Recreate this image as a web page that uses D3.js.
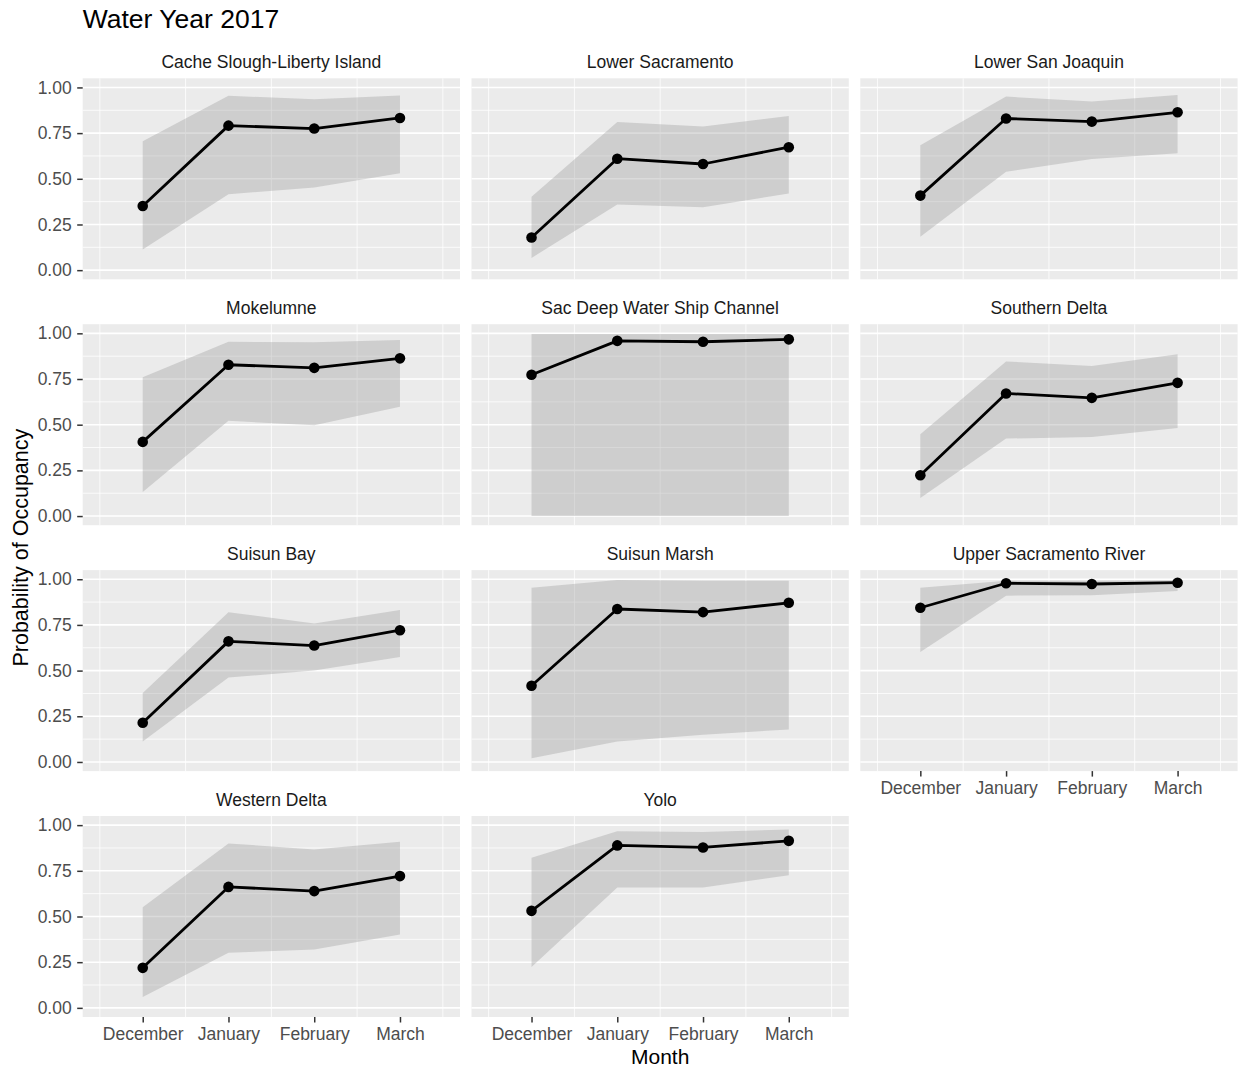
<!DOCTYPE html>
<html>
<head>
<meta charset="utf-8">
<script src="https://cdn.jsdelivr.net/npm/d3@7"></script>
<style>
  html, body { margin: 0; padding: 0; background: #ffffff; }
  svg { display: block; font-family: "Liberation Sans", Arial, Helvetica, sans-serif; }
</style>
</head>
<body>
<svg id="chart" width="1238" height="1070"></svg>
<script>
// Monthly occupancy estimates (with credible-interval bounds) per region, water year 2017
const months = ["December", "January", "February", "March"];

const regions = [
  "Cache Slough-Liberty Island", "Lower Sacramento", "Lower San Joaquin",
  "Mokelumne", "Sac Deep Water Ship Channel", "Southern Delta",
  "Suisun Bay", "Suisun Marsh", "Upper Sacramento River",
  "Western Delta", "Yolo"
];

const occupancy = [
  [0.351, 0.791, 0.775, 0.833],
  [0.179, 0.610, 0.581, 0.673],
  [0.408, 0.830, 0.813, 0.864],
  [0.406, 0.828, 0.811, 0.863],
  [0.773, 0.959, 0.954, 0.967],
  [0.223, 0.671, 0.647, 0.729],
  [0.215, 0.660, 0.637, 0.721],
  [0.417, 0.837, 0.820, 0.871],
  [0.844, 0.978, 0.974, 0.981],
  [0.219, 0.662, 0.639, 0.721],
  [0.531, 0.889, 0.878, 0.914]
];

const lowerBound = [
  [0.113, 0.415, 0.453, 0.530],
  [0.067, 0.360, 0.344, 0.420],
  [0.183, 0.539, 0.609, 0.640],
  [0.132, 0.521, 0.497, 0.598],
  [0.000, 0.000, 0.000, 0.000],
  [0.099, 0.424, 0.433, 0.482],
  [0.112, 0.462, 0.501, 0.574],
  [0.020, 0.112, 0.149, 0.178],
  [0.602, 0.910, 0.913, 0.936],
  [0.060, 0.301, 0.320, 0.402],
  [0.224, 0.659, 0.659, 0.726]
];

const upperBound = [
  [0.705, 0.954, 0.936, 0.956],
  [0.402, 0.811, 0.786, 0.844],
  [0.683, 0.950, 0.923, 0.959],
  [0.759, 0.954, 0.951, 0.963],
  [0.996, 0.996, 0.996, 0.996],
  [0.448, 0.846, 0.821, 0.885],
  [0.378, 0.820, 0.758, 0.831],
  [0.954, 0.996, 0.992, 0.992],
  [0.954, 0.992, 0.992, 0.995],
  [0.551, 0.900, 0.867, 0.909],
  [0.821, 0.967, 0.963, 0.976]
];

const yTicks = [0, 0.25, 0.5, 0.75, 1];
const yTickLabels = ["0.00", "0.25", "0.50", "0.75", "1.00"];
const yMinorTicks = [0.125, 0.375, 0.625, 0.875];

const chartTitle = "Water Year 2017";
const xTitle = "Month";
const yTitle = "Probability of Occupancy";

// ---- layout ----
const nCols = 3;
const panelW = 377.3, panelH = 201;
const colLeft = [82.7, 471.5, 860.3];
const rowTop = [78.3, 324.2, 570.1, 816];
const fontSmall = 17.5;

const svg = d3.select("#chart");

const x = d3.scalePoint().domain(months).range([0, panelW]).padding(0.7);
const y = d3.scaleLinear().domain([-0.05, 1.05]).range([panelH, 0]);
const step = x.step();
const xMinor = months.map(m => x(m) - step / 2).concat([x(months[months.length - 1]) + step / 2]);

// title
svg.append("text")
  .attr("x", colLeft[0]).attr("y", 28)
  .attr("font-size", 26.5).attr("fill", "#000")
  .text(chartTitle);

// axis titles
svg.append("text")
  .attr("x", (colLeft[0] + colLeft[2] + panelW) / 2).attr("y", 1063.5)
  .attr("text-anchor", "middle").attr("font-size", 21).attr("fill", "#000")
  .text(xTitle);

svg.append("text")
  .attr("transform", `translate(28,${(rowTop[0] + rowTop[3] + panelH) / 2}) rotate(-90)`)
  .attr("text-anchor", "middle").attr("font-size", 21.5).attr("fill", "#000")
  .text(yTitle);

const lastRowOfCol = [];
regions.forEach((r, i) => { lastRowOfCol[i % nCols] = Math.floor(i / nCols); });

regions.forEach((region, i) => {
  const col = i % nCols, row = Math.floor(i / nCols);
  const g = svg.append("g").attr("transform", `translate(${colLeft[col]},${rowTop[row]})`);

  // strip label
  g.append("text")
    .attr("x", panelW / 2).attr("y", -10)
    .attr("text-anchor", "middle").attr("font-size", fontSmall).attr("fill", "#1a1a1a")
    .text(region);

  // panel background
  g.append("rect").attr("width", panelW).attr("height", panelH).attr("fill", "#ebebeb");

  // minor grid
  g.selectAll(".hminor").data(yMinorTicks).enter().append("line")
    .attr("x1", 0).attr("x2", panelW)
    .attr("y1", d => y(d)).attr("y2", d => y(d))
    .attr("stroke", "#fff").attr("stroke-width", 0.8);
  g.selectAll(".vminor").data(xMinor).enter().append("line")
    .attr("y1", 0).attr("y2", panelH)
    .attr("x1", d => d).attr("x2", d => d)
    .attr("stroke", "#fff").attr("stroke-width", 0.8);

  // major grid
  g.selectAll(".hmajor").data(yTicks).enter().append("line")
    .attr("x1", 0).attr("x2", panelW)
    .attr("y1", d => y(d)).attr("y2", d => y(d))
    .attr("stroke", "#fff").attr("stroke-width", 1.6);

  const pts = months.map((m, j) => ({
    m, v: occupancy[i][j], lo: lowerBound[i][j], hi: upperBound[i][j]
  }));

  // interval ribbon
  const area = d3.area()
    .x(d => x(d.m)).y0(d => y(d.lo)).y1(d => y(d.hi));
  g.append("path").datum(pts).attr("d", area)
    .attr("fill", "#999999").attr("fill-opacity", 0.35);

  // estimate line + points
  const line = d3.line().x(d => x(d.m)).y(d => y(d.v));
  g.append("path").datum(pts).attr("d", line)
    .attr("fill", "none").attr("stroke", "#000").attr("stroke-width", 2.8)
    .attr("stroke-linejoin", "round");
  g.selectAll(".pt").data(pts).enter().append("circle")
    .attr("cx", d => x(d.m)).attr("cy", d => y(d.v)).attr("r", 5.3)
    .attr("fill", "#000");

  // y axis on first column
  if (col === 0) {
    const ay = g.append("g").call(
      d3.axisLeft(y).tickValues(yTicks)
        .tickFormat((d, k) => yTickLabels[k])
        .tickSize(5.5).tickPadding(5.5).tickSizeOuter(0));
    ay.select(".domain").remove();
    ay.selectAll(".tick line").attr("stroke", "#333").attr("stroke-width", 1.5);
    ay.selectAll(".tick text").attr("fill", "#4d4d4d")
      .attr("font-size", fontSmall).attr("font-family", null);
  }

  // x axis on the last panel of each column
  if (row === lastRowOfCol[col]) {
    const ax = g.append("g").attr("transform", `translate(0,${panelH})`).call(
      d3.axisBottom(x).tickSize(5.5).tickPadding(5).tickSizeOuter(0));
    ax.select(".domain").remove();
    ax.selectAll(".tick line").attr("stroke", "#333").attr("stroke-width", 1.5);
    ax.selectAll(".tick text").attr("fill", "#4d4d4d")
      .attr("font-size", fontSmall).attr("font-family", null);
  }
});
</script>
</body>
</html>
